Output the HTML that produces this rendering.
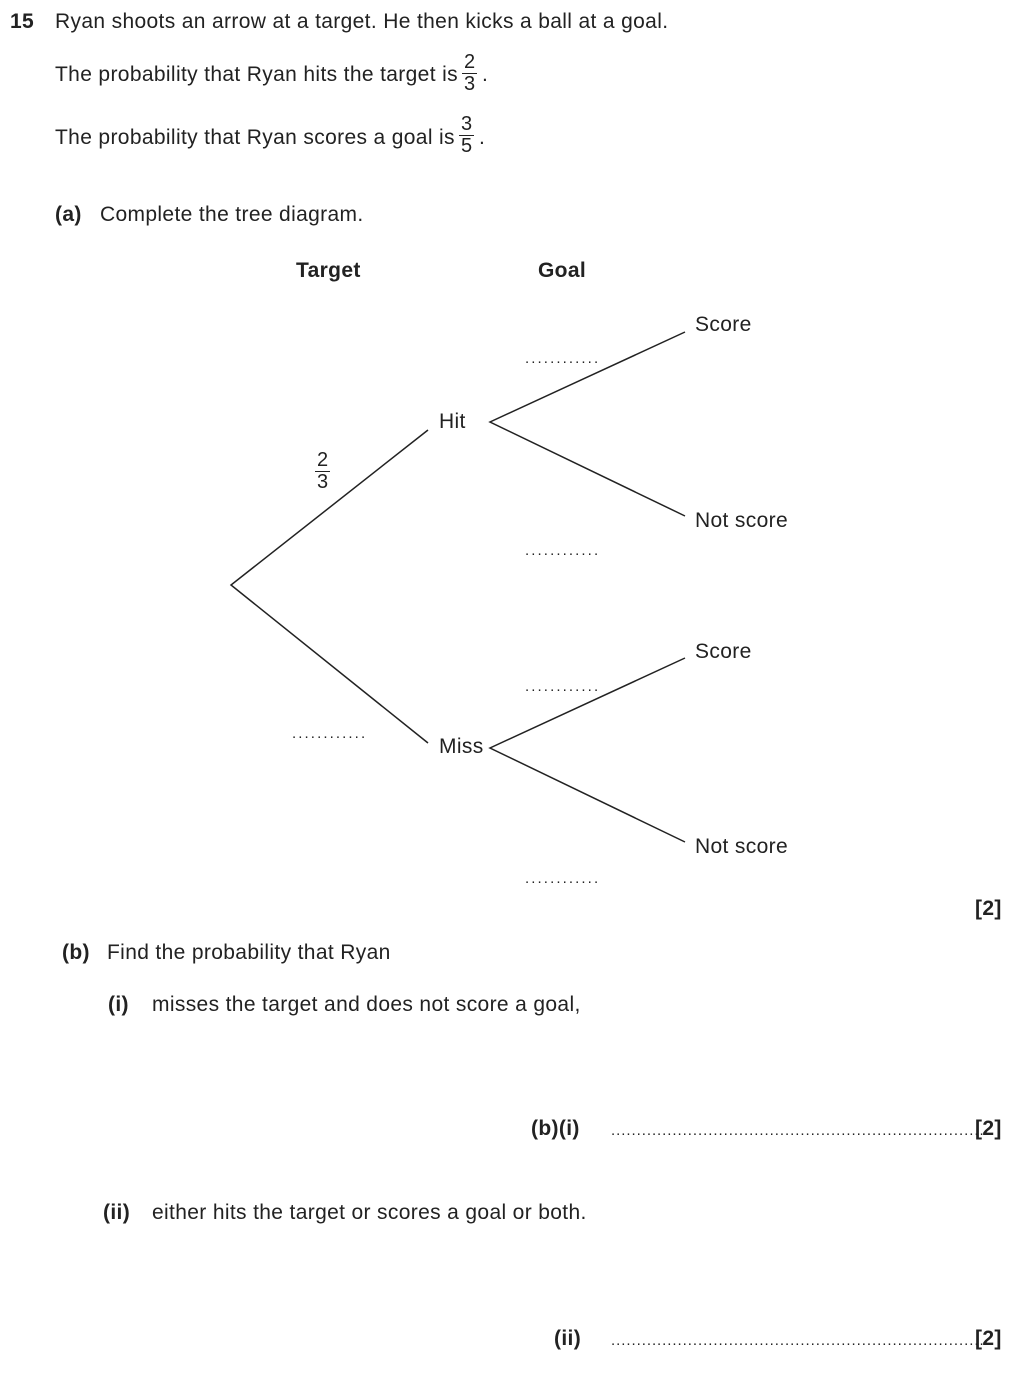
<!DOCTYPE html>
<html><head><meta charset="utf-8"><style>
body{margin:0;width:1012px;height:1383px;background:#fff;position:relative;font-family:"Liberation Sans",Arial,sans-serif;color:#222;font-size:21px;letter-spacing:0.35px;overflow:hidden}
.t{position:absolute;white-space:nowrap;line-height:22px}
.b{font-weight:bold}
.fr{position:absolute;text-align:center;font-size:20px;line-height:21px;letter-spacing:0}
.fr span{display:block}
.fr .n{border-bottom:1.5px solid #222;padding:0 2px}
.d{position:absolute;font-size:15px;letter-spacing:2.1px;line-height:14px;white-space:nowrap}
.dl{position:absolute;font-size:15px;letter-spacing:0.95px;line-height:14px;white-space:nowrap}
</style></head><body>
<div class="t b" style="left:10px;top:11px">15</div>
<div class="t" style="left:55px;top:11px">Ryan shoots an arrow at a target. He then kicks a ball at a goal.</div>
<div class="t" style="left:55px;top:64px">The probability that Ryan hits the target is</div>
<div class="fr" style="left:462px;top:52px"><span class="n">2</span><span>3</span></div>
<div class="t" style="left:482px;top:64px">.</div>
<div class="t" style="left:55px;top:127px">The probability that Ryan scores a goal is</div>
<div class="fr" style="left:459px;top:114px"><span class="n">3</span><span>5</span></div>
<div class="t" style="left:479px;top:127px">.</div>
<div class="t b" style="left:55px;top:204px">(a)</div>
<div class="t" style="left:100px;top:204px">Complete the tree diagram.</div>
<div class="t b" style="left:296px;top:260px">Target</div>
<div class="t b" style="left:538px;top:260px">Goal</div>
<svg style="position:absolute;left:0;top:0" width="1012" height="1383">
<g stroke="#222" stroke-width="1.5" fill="none">
<polyline points="428,430 231,585 428,743"/>
<polyline points="685,332 490,422 685,516"/>
<polyline points="685,658 490,748 685,842"/>
</g></svg>
<div class="t" style="left:695px;top:314px">Score</div>
<div class="t" style="left:439px;top:411px">Hit</div>
<div class="t" style="left:695px;top:510px">Not score</div>
<div class="t" style="left:695px;top:641px">Score</div>
<div class="t" style="left:439px;top:736px">Miss</div>
<div class="t" style="left:695px;top:836px">Not score</div>
<div class="fr" style="left:315px;top:450px"><span class="n">2</span><span>3</span></div>
<div class="d" style="left:525px;top:352px">............</div>
<div class="d" style="left:525px;top:544px">............</div>
<div class="d" style="left:525px;top:680px">............</div>
<div class="d" style="left:525px;top:872px">............</div>
<div class="d" style="left:292px;top:727px">............</div>
<div class="t b" style="left:975px;top:898px">[2]</div>
<div class="t b" style="left:62px;top:942px">(b)</div>
<div class="t" style="left:107px;top:942px">Find the probability that Ryan</div>
<div class="t b" style="left:108px;top:994px">(i)</div>
<div class="t" style="left:152px;top:994px">misses the target and does not score a goal,</div>
<div class="t b" style="left:531px;top:1118px">(b)(i)</div>
<div class="dl" style="left:611px;top:1124px">.........................................................................</div>
<div class="t b" style="left:975px;top:1118px">[2]</div>
<div class="t b" style="left:103px;top:1202px">(ii)</div>
<div class="t" style="left:152px;top:1202px">either hits the target or scores a goal or both.</div>
<div class="t b" style="left:554px;top:1328px">(ii)</div>
<div class="dl" style="left:611px;top:1334px">.........................................................................</div>
<div class="t b" style="left:975px;top:1328px">[2]</div>
</body></html>
